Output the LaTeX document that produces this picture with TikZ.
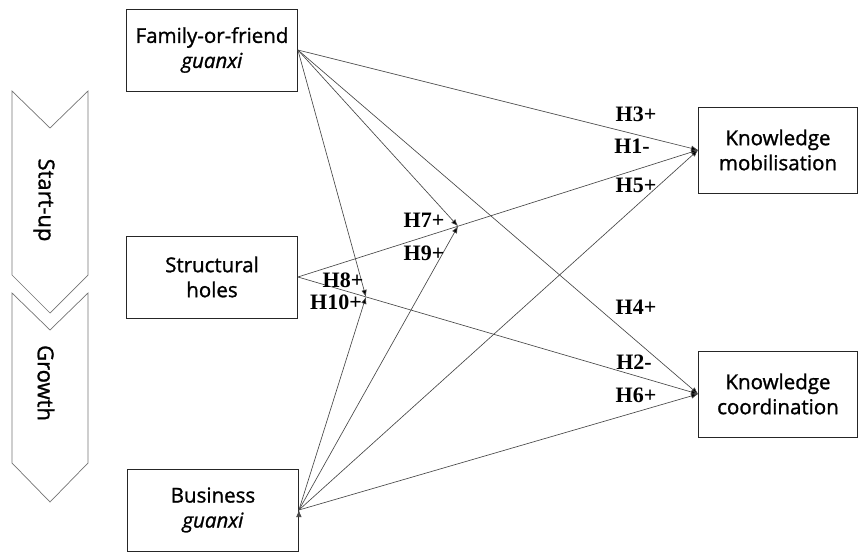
\documentclass[tikz,border=0pt]{standalone}
\usepackage{fontspec}
\setmainfont{Open Sans}[FakeBold=1.2]
\newfontfamily\hypfont{Liberation Serif}
\usetikzlibrary{calc,arrows.meta}

\begin{document}
\begin{tikzpicture}[x=1pt,y=-1pt,
        box/.style={draw=black!85, line width=0.8pt, minimum width=171pt, minimum height=82pt,
            align=center, font=\fontsize{20.5}{25}\selectfont},
        outbox/.style={box, minimum width=159pt, minimum height=86pt},
        phase/.style={draw=black!55, line width=0.7pt},
        phasetext/.style={rotate=-90, font=\fontsize{22}{22}\selectfont},
        link/.style={draw=black!72, line width=0.65pt, -{Latex[length=7pt,width=5.5pt]}},
        hyp/.style={font=\hypfont\bfseries\fontsize{22}{22}\selectfont, inner sep=0pt}]
    \useasboundingbox (0,0) rectangle (858,551);

    % phases
    \draw[phase] (12,91) -- (50,128) -- (88,91) -- (88,275) -- (50,313) -- (12,275) -- cycle;
    \draw[phase] (12,293) -- (50,330) -- (88,293) -- (88,463) -- (50,502) -- (12,463) -- cycle;
    \node[phasetext] (startup) at (44,200) {Start-up};
    \node[phasetext] (growth) at (46,383) {Growth};

    % antecedents
    \node[box] (fam) at (212,50) {Family-or-friend\\\textit{guanxi}};
    \node[box] (sh) at (212,277) {Structural\\holes};
    \node[box] (bus) at (213,510) {Business\\\textit{guanxi}};

    % outcomes
    \node[outbox] (km) at (778,150) {Knowledge\\mobilisation};
    \node[outbox] (kc) at (778,394) {Knowledge\\coordination};

    % moderation points
    \coordinate (mkm) at ($(sh.east)!0.4!(km.west)$);
    \coordinate (mkc) at ($(sh.east)!0.17!(kc.west)$);

    \path[link]
        (fam.east) edge (km.west)
        (fam.east) edge (kc.west)
        (sh.east) edge (km.west)
        (sh.east) edge (kc.west)
        (bus.east) edge (km.west)
        (bus.east) edge (kc.west)
        (fam.east) edge (mkm)
        (fam.east) edge (mkc)
        (bus.east) edge (mkm)
        (bus.east) edge (mkc);

    % hypotheses
    \node[hyp] (h3) at (636,114) {H3+};
    \node[hyp] (h1) at (632,146) {H1-};
    \node[hyp] (h5) at (636,185) {H5+};
    \node[hyp] (h4) at (636,307) {H4+};
    \node[hyp] (h2) at (634,362) {H2-};
    \node[hyp] (h6) at (636,395) {H6+};
    \node[hyp] (h7) at (424,220) {H7+};
    \node[hyp] (h9) at (424,253) {H9+};
    \node[hyp] (h8) at (343,280) {H8+};
    \node[hyp] (h10) at (336,302) {H10+};
\end{tikzpicture}
\end{document}
